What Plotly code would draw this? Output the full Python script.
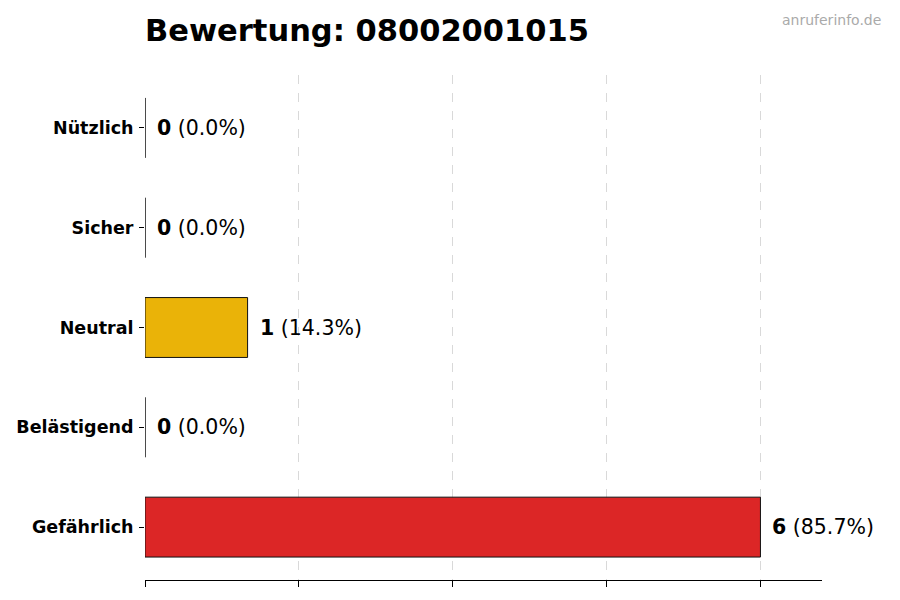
import plotly.graph_objects as go

categories = ["Gefährlich", "Belästigend", "Neutral", "Sicher", "Nützlich"]
counts = [6, 0, 1, 0, 0]
colors = ["#dc2626", "#f97316", "#eab308", "#84cc16", "#16a34a"]
x_ticks = [0, 1.5, 3, 4.5, 6]

total = sum(counts)
labels = [f"<b>{c}</b> ({c / total * 100:.1f}%)" for c in counts]

fig = go.Figure()
fig.add_trace(
    go.Bar(
        x=counts,
        y=categories,
        orientation="h",
        width=0.6,
        marker=dict(color=colors, line=dict(color="#111111", width=1)),
        hoverinfo="skip",
    )
)

# --- value labels ---
for cat, val, txt in zip(categories, counts, labels):
    fig.add_annotation(
        x=val, y=cat, text=txt, showarrow=False,
        xanchor="left", xshift=10,
        font=dict(family="DejaVu Sans", size=20.5, color="#000000"),
    )

fig.add_annotation(
    xref="paper", yref="paper", x=1.09, y=1.129,
    xanchor="right", yanchor="top",
    text="anruferinfo.de", showarrow=False,
    font=dict(family="DejaVu Sans", size=14, color="#aaaaaa"),
)

fig.update_layout(
    width=900,
    height=600,
    margin=dict(l=137, r=86, t=67, b=28, autoexpand=False),
    plot_bgcolor="white",
    paper_bgcolor="white",
    showlegend=False,
    title=dict(
        text="<b>Bewertung: 08002001015</b>",
        x=137 / 900, xanchor="left", y=0.963, yanchor="middle",
        font=dict(family="DejaVu Sans", size=30.5, color="#000000"),
    ),
    xaxis=dict(
        range=[0, 6.6],
        tickvals=x_ticks,
        showticklabels=False,
        ticks="outside",
        ticklen=6,
        tickcolor="#000000",
        showline=True,
        linecolor="#000000",
        linewidth=1,
        showgrid=True,
        gridcolor="#d9d9d9",
        griddash="dash",
        gridwidth=1,
        zeroline=False,
    ),
    yaxis=dict(
        range=[-0.53, 4.53],
        automargin=False,
        ticks="outside",
        ticklen=5,
        tickcolor="#000000",
        ticklabelstandoff=2,
        tickfont=dict(family="DejaVu Sans", size=17.5, color="#000000"),
        tickprefix="<b>",
        ticksuffix="</b>",
        showline=False,
        showgrid=False,
        zeroline=False,
    ),
)

fig.write_html("out.html")
